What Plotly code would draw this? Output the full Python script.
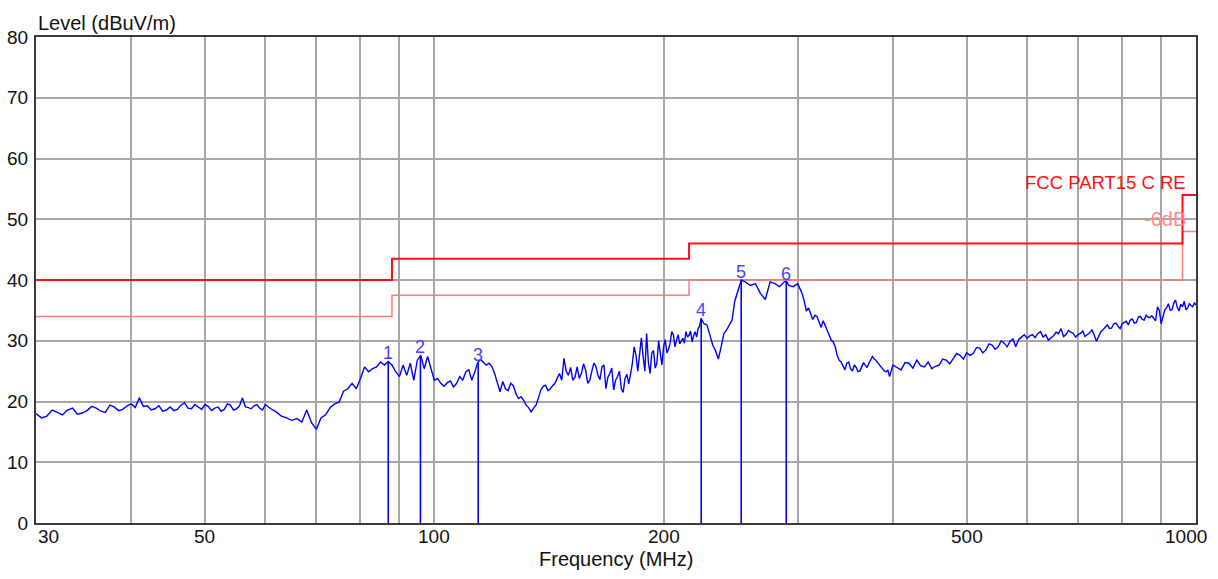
import math
import plotly.graph_objects as go

# ---------------- data ----------------
FREQ_MHZ = [
    30, 30.5, 31, 31.5, 32, 32.5, 33, 33.5, 34, 34.5, 35, 35.5, 36, 36.5, 37, 37.5, 38, 38.5, 39, 39.5,
    40, 41, 42, 43, 44, 45, 46, 47, 48, 49, 50, 51, 52, 53, 54, 55, 56, 57, 58, 59,
    60, 61, 62, 63, 64, 65, 66, 67, 68, 69, 70, 71, 72, 73, 74, 75, 76, 77, 78, 79,
    80, 81, 82, 83, 84, 85, 86, 87, 88, 89, 90, 91, 92, 93, 94, 95, 96, 97, 98, 99,
    100, 102, 104, 106, 108, 110, 112, 114, 116, 118, 120, 122, 124, 126, 128, 130, 132, 134, 136, 138,
    140, 142, 144, 146, 148, 150, 152, 154, 156, 158, 160, 162, 164, 166, 168, 170, 172, 174, 176, 178,
    180, 181, 182, 183, 184, 185, 186, 187, 188, 189, 190, 191, 192, 193, 194, 195, 196, 197, 198, 199,
    200, 202, 204, 206, 208, 210, 212, 214, 216, 218, 220, 222, 224, 228, 232, 236, 240, 244, 246, 248,
    250, 252, 253, 256, 260, 264, 268, 272, 276, 280, 284, 288, 290, 292, 296, 300, 304, 308, 312, 316,
    320, 324, 328, 332, 336, 340, 344, 348, 352, 356, 360, 364, 368, 372, 376, 380, 384, 388, 392, 396,
    400, 405, 410, 415, 420, 425, 430, 435, 440, 445, 450, 455, 460, 465, 470, 475, 480, 485, 490, 495,
    500, 505, 510, 515, 520, 525, 530, 535, 540, 545, 550, 555, 560, 565, 570, 575, 580, 585, 590, 595,
    600, 610, 620, 630, 640, 650, 660, 670, 680, 690, 700, 710, 720, 730, 740, 750, 760, 770, 780, 790,
    800, 810, 820, 830, 840, 850, 860, 870, 880, 890, 900, 910, 920, 930, 940, 950, 960, 970, 980, 990,
    1000,
]
LEVEL_DBUV = [
    18.0, 17.3, 17.6, 18.6, 18.2, 17.8, 18.6, 18.9, 17.9, 18.1, 18.5, 19.2, 18.9, 18.4, 18.2, 19.4, 19.1, 18.5, 18.7, 19.3,
    19.6, 20.6, 19.3, 18.8, 18.4, 19.1, 18.7, 19.8, 18.8, 19.1, 19.5, 18.5, 19.1, 18.7, 19.4, 18.8, 20.6, 19.0, 19.3, 18.9,
    19.5, 18.8, 18.3, 17.6, 17.3, 16.9, 17.2, 16.6, 18.6, 16.5, 15.4, 17.3, 17.8, 19.0, 19.6, 19.9, 21.7, 22.1, 23.0, 22.1,
    23.8, 25.7, 24.9, 25.4, 25.7, 26.5, 26.0, 26.6, 26.0, 24.9, 24.1, 26.0, 24.3, 26.3, 23.5, 26.8, 27.6, 25.4, 27.4, 25.2,
    23.5, 23.0, 23.1, 22.4, 24.1, 24.9, 23.5, 26.4, 26.5, 26.3, 24.6, 21.6, 22.1, 23.0, 21.3, 20.8, 19.4, 18.3, 19.4, 21.9,
    22.7, 22.1, 23.0, 24.6, 27.1, 24.3, 23.5, 25.7, 24.6, 25.2, 23.5, 26.3, 24.3, 25.7, 22.1, 24.6, 21.9, 24.1, 22.1, 23.8,
    22.9, 24.5, 26.3, 29.0, 27.6, 25.0, 28.4, 30.5, 27.4, 25.0, 31.2, 26.5, 24.6, 28.0, 28.4, 25.5, 26.3, 30.0, 28.0, 26.0,
    29.0, 28.0, 29.6, 31.0, 30.1, 29.5, 30.4, 31.5, 30.9, 29.8, 31.5, 32.0, 33.7, 32.6, 29.3, 27.0, 31.2, 32.5, 33.4, 36.5,
    38.0, 39.2, 40.0, 39.7, 39.1, 39.4, 37.8, 36.8, 39.7, 39.4, 38.9, 39.7, 39.8, 39.1, 38.9, 39.4, 37.8, 34.9, 34.5, 34.2,
    33.1, 33.3, 31.7, 30.1, 29.0, 26.8, 25.7, 26.3, 25.4, 26.0, 24.9, 25.7, 26.0, 26.3, 27.4, 26.8, 26.0, 25.4, 24.9, 24.1,
    26.0, 25.6, 25.2, 26.4, 26.3, 25.5, 26.8, 25.9, 25.7, 26.5, 25.4, 25.8, 26.0, 27.0, 26.8, 26.2, 27.1, 27.9, 27.6, 27.0,
    28.0, 27.6, 27.9, 28.9, 28.8, 28.0, 28.5, 29.5, 29.3, 28.6, 29.0, 30.0, 29.6, 29.0, 29.9, 30.3, 29.0, 30.2, 30.6, 31.0,
    30.4, 31.0, 31.2, 30.6, 30.1, 30.8, 31.2, 30.7, 31.7, 31.2, 31.0, 31.6, 31.0, 31.8, 29.9, 31.5, 32.3, 32.0, 32.8, 32.4,
    32.8, 33.2, 33.4, 32.9, 33.9, 33.5, 34.2, 33.8, 33.7, 35.6, 32.8, 35.1, 36.1, 35.1, 36.7, 34.9, 35.6, 35.1, 36.1, 35.6,
    35.9,
]

# additional in-between readings of the jagged trace
EXTRA_FREQ_MHZ = [
    40.5, 41.5, 42.5, 43.5, 44.5, 45.5, 46.5, 47.5, 48.5, 49.5, 50.5, 51.5, 52.5, 53.5, 54.5, 55.5, 56.5, 57.5, 58.5, 59.5,
    101, 103, 105, 107, 109, 111, 113, 115, 117, 119, 121, 123, 125, 127, 129,
    131, 133, 135, 137, 139, 141, 143, 145, 147, 149, 151, 153, 155, 157, 159, 161, 163, 165, 167, 169,
    171, 173, 175, 177, 179,
    201, 203, 205, 207, 209, 211, 213, 215, 217, 219, 221, 223, 226, 230, 234, 238, 242,
    302, 306, 310, 314, 318, 322, 326, 330, 334, 338, 342, 346, 350, 354, 358, 362, 366, 370, 374, 378,
    382, 386, 390, 394, 398,
    605, 615, 625, 635, 645, 655, 665, 675, 685, 695, 705, 715, 725, 735, 745, 755, 765, 775, 785, 795,
    805, 815, 825, 835, 845, 855, 865, 875, 885, 895, 905, 915, 925, 935, 945, 955, 965, 975, 985, 995,
]
EXTRA_LEVEL_DBUV = [
    19.0, 19.2, 18.6, 19.3, 18.6, 18.5, 19.4, 18.9, 19.5, 18.7, 19.2, 18.9, 18.4, 19.6, 18.6, 19.3, 19.1, 18.8, 19.5, 18.6,
    23.8, 22.5, 23.4, 23.0, 23.5, 25.2, 24.8, 26.9, 26.0, 25.8, 23.0, 23.3, 21.8, 22.6, 20.5,
    20.2, 19.0, 18.9, 20.6, 22.5, 21.8, 22.6, 23.8, 23.5, 25.0, 25.6, 24.0, 23.8, 26.2, 23.0, 25.0, 25.8, 23.6, 26.0, 24.0,
    25.5, 23.5, 25.0, 21.5, 24.5,
    30.2, 28.6, 31.5, 29.0, 31.0, 30.0, 29.6, 30.6, 31.6, 30.8, 30.6, 32.4, 32.8, 31.0, 28.4, 29.0, 31.8,
    38.6, 36.5, 35.4, 33.5, 34.0, 32.2, 32.5, 31.0, 29.8, 27.6, 26.5, 25.2, 26.5, 25.0, 25.6, 25.0, 26.4, 25.6, 26.8, 27.0,
    26.4, 25.7, 25.0, 25.2, 25.0,
    30.8, 30.5, 31.5, 31.0, 30.5, 31.4, 32.0, 31.0, 31.4, 30.6, 31.2, 30.7, 31.3, 31.0, 30.8, 31.8, 32.6, 32.1, 32.9, 32.0,
    33.0, 32.6, 33.6, 33.0, 34.0, 33.4, 33.9, 34.1, 33.3, 35.0, 34.2, 35.4, 35.0, 36.2, 35.5, 36.0, 36.5, 35.4, 35.8, 36.2,
]

LIMIT_FREQ = [30, 88, 88, 216, 216, 960, 960, 1000]
LIMIT_DBUV = [40, 40, 43.5, 43.5, 46, 46, 54, 54]
LIMIT_6DB_DBUV = [34, 34, 37.5, 37.5, 40, 40, 48, 48]

MARKER_FREQ = [87.0, 95.9, 114.2, 224.1, 252.9, 289.8]
MARKER_LEVEL = [26.6, 27.6, 26.4, 33.7, 40.0, 39.7]
MARKER_LABEL = ["1", "2", "3", "4", "5", "6"]

GRID_FREQ = [30, 40, 50, 60, 70, 80, 90, 100, 200, 300, 400, 500, 600, 700, 800, 900, 1000]
XTICK_VALS = [30, 50, 100, 200, 500, 1000]
XTICK_TEXT = ["30", "50", "100", "200", "500", "1000"]

FONT = "Liberation Sans, Arial, sans-serif"

# merge the readings in frequency order
pairs = sorted(zip(FREQ_MHZ + EXTRA_FREQ_MHZ, LEVEL_DBUV + EXTRA_LEVEL_DBUV))
trace_f = [p[0] for p in pairs]
trace_v = [p[1] for p in pairs]

fig = go.Figure()

# -6 dB margin line
fig.add_trace(go.Scatter(x=LIMIT_FREQ, y=LIMIT_6DB_DBUV, mode="lines",
                         line=dict(color="#ff7a7a", width=1.5), hoverinfo="skip"))
# limit line
fig.add_trace(go.Scatter(x=LIMIT_FREQ, y=LIMIT_DBUV, mode="lines",
                         line=dict(color="#ff1010", width=2), hoverinfo="skip"))
# measured trace
fig.add_trace(go.Scatter(x=trace_f, y=trace_v, mode="lines",
                         line=dict(color="#0000ff", width=1.4)))
# marker stems
sx, sy = [], []
for f, v in zip(MARKER_FREQ, MARKER_LEVEL):
    sx += [f, f, None]
    sy += [0, v, None]
fig.add_trace(go.Scatter(x=sx, y=sy, mode="lines",
                         line=dict(color="#0000ff", width=1.6), hoverinfo="skip"))

annotations = []
for f, v, t in zip(MARKER_FREQ, MARKER_LEVEL, MARKER_LABEL):
    annotations.append(dict(x=math.log10(f), y=v, xref="x", yref="y", text=t,
                            showarrow=False, xanchor="center", yanchor="bottom", yshift=-4,
                            font=dict(family=FONT, size=18, color="#4545ff")))

for v, t in zip(XTICK_VALS, XTICK_TEXT):
    anchor = "center"
    xs = 0
    if v == XTICK_VALS[0]:
        anchor, xs = "left", 0
    elif v == XTICK_VALS[-1]:
        anchor, xs = "right", 13
    annotations.append(dict(x=math.log10(v), y=0, xref="x", yref="y", text=t,
                            showarrow=False, xanchor=anchor, yanchor="middle",
                            xshift=xs, yshift=-13,
                            font=dict(family=FONT, size=19, color="#111111")))

annotations.append(dict(x=0, y=1, xref="paper", yref="paper", text="Level (dBuV/m)",
                        showarrow=False, xanchor="left", yanchor="bottom", yshift=1,
                        font=dict(family=FONT, size=20, color="#111111")))
annotations.append(dict(x=0.5, y=0, xref="paper", yref="paper", text="Frequency (MHz)",
                        showarrow=False, xanchor="center", yanchor="middle", yshift=-36,
                        font=dict(family=FONT, size=20, color="#111111")))
annotations.append(dict(x=math.log10(975), y=56.0, xref="x", yref="y", text="FCC PART15 C RE",
                        showarrow=False, xanchor="right", yanchor="middle",
                        font=dict(family=FONT, size=18.5, color="#ff1010")))
annotations.append(dict(x=math.log10(975), y=50.0, xref="x", yref="y", text="-6dB",
                        showarrow=False, xanchor="right", yanchor="middle",
                        font=dict(family=FONT, size=20, color="#ff8a8a")))

fig.update_layout(
    width=1218, height=579,
    margin=dict(l=36, r=22, t=37, b=56, pad=0, autoexpand=False),
    paper_bgcolor="white", plot_bgcolor="white",
    showlegend=False,
    annotations=annotations,
    font=dict(family=FONT, size=20, color="#111111"),
)
fig.update_xaxes(type="log", range=[math.log10(30), math.log10(1000)], automargin=False,
                 tickmode="array", tickvals=GRID_FREQ, showticklabels=False, ticks="",
                 showgrid=True, gridcolor="#a6a6a6", gridwidth=2,
                 showline=True, mirror=True, linecolor="#3a3a3a", linewidth=2, zeroline=False)
fig.update_yaxes(range=[0, 80], tickmode="array", tickvals=[0, 10, 20, 30, 40, 50, 60, 70, 80],
                 ticks="", ticklabelstandoff=2, automargin=False,
                 tickfont=dict(family=FONT, size=19, color="#111111"),
                 showgrid=True, gridcolor="#a6a6a6", gridwidth=2,
                 showline=True, mirror=True, linecolor="#3a3a3a", linewidth=2, zeroline=False)

fig.write_html("out.html", config={"displayModeBar": False},
               post_script="document.body.style.margin='0';")
